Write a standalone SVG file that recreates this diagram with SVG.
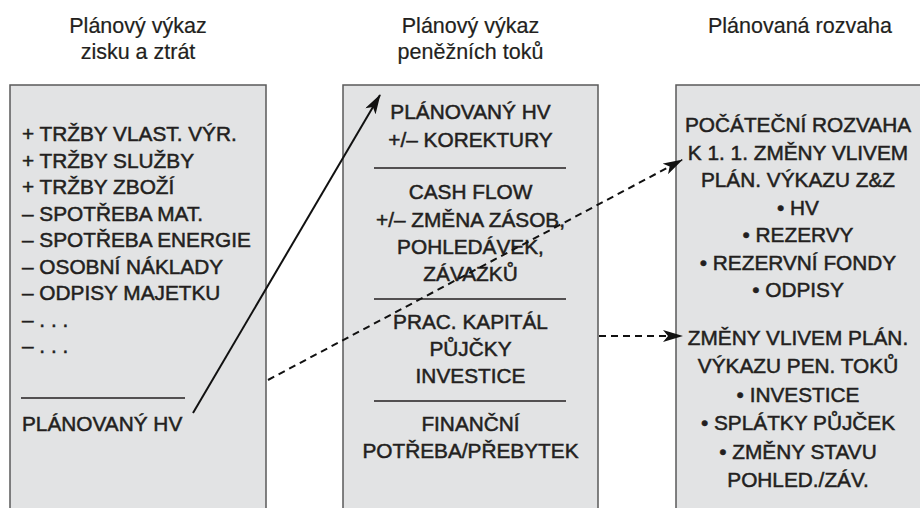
<svg xmlns="http://www.w3.org/2000/svg" width="920" height="508" viewBox="0 0 920 508">
<style>
.bg{fill:#ffffff}
.box{fill:#e2e3e4;stroke:#5a5a5a;stroke-width:1.5}
.hd{font-family:"Liberation Sans",Arial,sans-serif;font-size:21.5px;fill:#231f20;stroke:#231f20;stroke-width:0.2;text-anchor:middle}
.t{font-family:"Liberation Sans",Arial,sans-serif;font-size:20.8px;fill:#231f20;stroke:#231f20;stroke-width:0.5}
.c{text-anchor:middle}
.rule{stroke:#231f20;stroke-width:1.3}
.solid{fill:none;stroke:#111;stroke-width:2}
.dash{fill:none;stroke:#111;stroke-width:2;stroke-dasharray:7 5}
</style>
<defs>
<marker id="ah" viewBox="0 0 20 12" refX="19" refY="6" markerWidth="20" markerHeight="12" markerUnits="userSpaceOnUse" orient="auto">
<path d="M0,0 L20,6 L0,12 L5,6 z" fill="#111"/>
</marker>
</defs>
<rect class="bg" x="0" y="0" width="920" height="508"/>

<g id="node-vzz">
<text class="hd" x="138" y="33">Plánový výkaz</text>
<text class="hd" x="138" y="58.5">zisku a ztrát</text>
<rect class="box" x="10" y="85" width="256" height="435"/>
<text class="t" x="22" y="141">+ TRŽBY VLAST. VÝR.</text>
<text class="t" x="22" y="167.5">+ TRŽBY SLUŽBY</text>
<text class="t" x="22" y="194">+ TRŽBY ZBOŽÍ</text>
<text class="t" x="22" y="220.5">– SPOTŘEBA MAT.</text>
<text class="t" x="22" y="247">– SPOTŘEBA ENERGIE</text>
<text class="t" x="22" y="273.5">– OSOBNÍ NÁKLADY</text>
<text class="t" x="22" y="300">– ODPISY MAJETKU</text>
<text class="t" x="22" y="326.5">– . . .</text>
<text class="t" x="22" y="353">– . . .</text>
<line class="rule" x1="21" y1="398" x2="185" y2="398"/>
<text class="t" x="22" y="431">PLÁNOVANÝ HV</text>
</g>

<g id="node-vpt">
<text class="hd" x="470.5" y="33">Plánový výkaz</text>
<text class="hd" x="470.5" y="58.5">peněžních toků</text>
<rect class="box" x="343" y="85" width="255" height="435"/>
<text class="t c" x="470.5" y="119">PLÁNOVANÝ HV</text>
<text class="t c" x="470.5" y="147">+/– KOREKTURY</text>
<line class="rule" x1="374" y1="168" x2="566" y2="168"/>
<text class="t c" x="470.5" y="199">CASH FLOW</text>
<text class="t c" x="470.5" y="227">+/– ZMĚNA ZÁSOB,</text>
<text class="t c" x="470.5" y="254">POHLEDÁVEK,</text>
<text class="t c" x="470.5" y="281">ZÁVAZKŮ</text>
<line class="rule" x1="374" y1="299" x2="566" y2="299"/>
<text class="t c" x="470.5" y="329">PRAC. KAPITÁL</text>
<text class="t c" x="470.5" y="356">PŮJČKY</text>
<text class="t c" x="470.5" y="383">INVESTICE</text>
<line class="rule" x1="374" y1="401" x2="566" y2="401"/>
<text class="t c" x="470.5" y="431">FINANČNÍ</text>
<text class="t c" x="470.5" y="458">POTŘEBA/PŘEBYTEK</text>
</g>

<g id="node-rozvaha">
<text class="hd" x="800" y="33">Plánovaná rozvaha</text>
<rect class="box" x="676" y="85" width="260" height="435"/>
<text class="t c" x="798" y="132">POČÁTEČNÍ ROZVAHA</text>
<text class="t c" x="798" y="159.5">K 1. 1. ZMĚNY VLIVEM</text>
<text class="t c" x="798" y="187">PLÁN. VÝKAZU Z&amp;Z</text>
<text class="t c" x="798" y="214.5">• HV</text>
<text class="t c" x="798" y="242">• REZERVY</text>
<text class="t c" x="798" y="269.5">• REZERVNÍ FONDY</text>
<text class="t c" x="798" y="297">• ODPISY</text>
<text class="t c" x="798" y="344.5">ZMĚNY VLIVEM PLÁN.</text>
<text class="t c" x="798" y="373">VÝKAZU PEN. TOKŮ</text>
<text class="t c" x="798" y="401.5">• INVESTICE</text>
<text class="t c" x="798" y="430">• SPLÁTKY PŮJČEK</text>
<text class="t c" x="798" y="458.5">• ZMĚNY STAVU</text>
<text class="t c" x="798" y="487">POHLED./ZÁV.</text>
</g>

<g id="connectors">
<line class="solid" x1="193" y1="413" x2="380" y2="95" marker-end="url(#ah)"/>
<line class="dash" x1="268" y1="380" x2="682" y2="160" marker-end="url(#ah)"/>
<line class="dash" x1="599" y1="336" x2="682" y2="336" marker-end="url(#ah)"/>
</g>
</svg>
